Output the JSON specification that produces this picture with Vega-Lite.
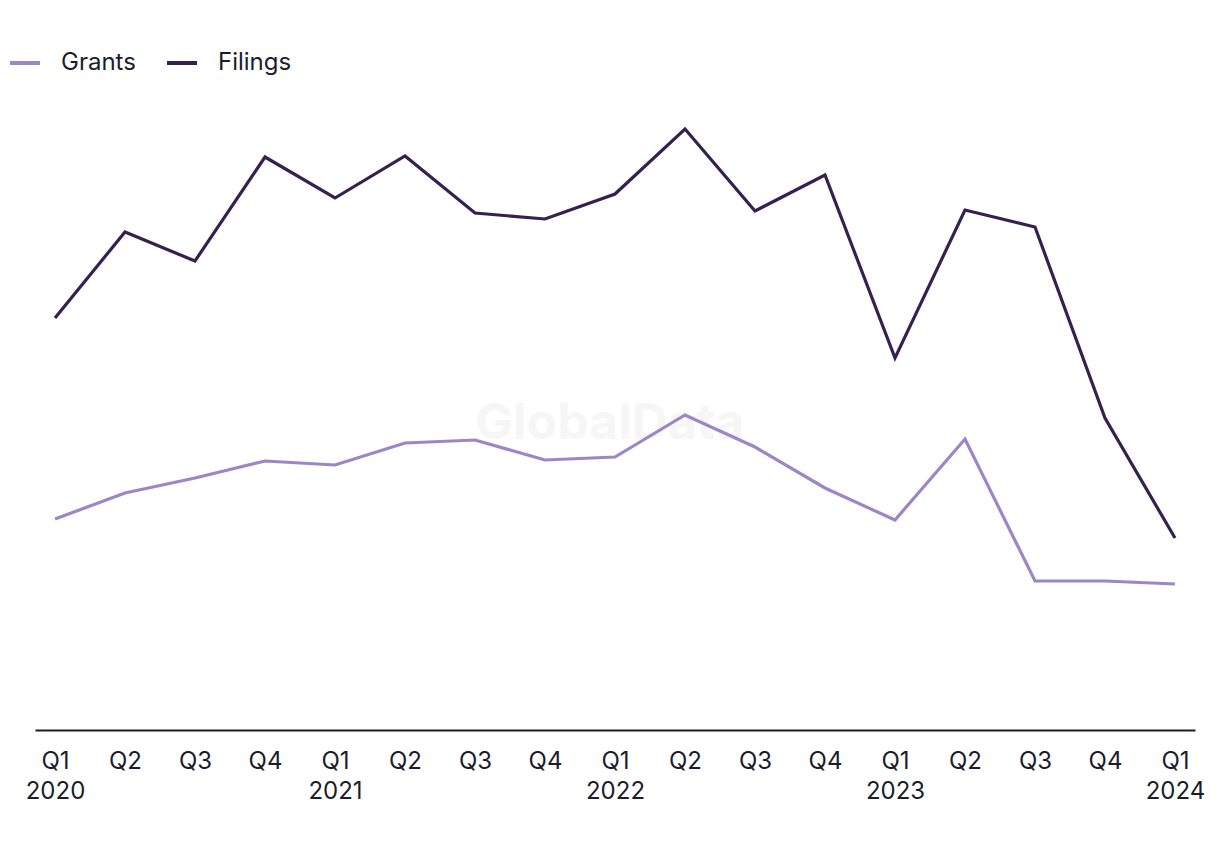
{
  "$schema": "https://vega.github.io/schema/vega-lite/v6.json",
  "width": 1160,
  "height": 700,
  "autosize": "none",
  "padding": {"left": 35, "top": 30, "right": 25, "bottom": 90},
  "background": "white",
  "config": {
    "view": {"stroke": null},
    "font": "Inter"
  },
  "data": {
    "values": [
      {"q": "Q1 2020", "series": "Grants", "v": 211},
      {"q": "Q2 2020", "series": "Grants", "v": 237},
      {"q": "Q3 2020", "series": "Grants", "v": 252},
      {"q": "Q4 2020", "series": "Grants", "v": 269},
      {"q": "Q1 2021", "series": "Grants", "v": 265},
      {"q": "Q2 2021", "series": "Grants", "v": 287},
      {"q": "Q3 2021", "series": "Grants", "v": 290},
      {"q": "Q4 2021", "series": "Grants", "v": 270},
      {"q": "Q1 2022", "series": "Grants", "v": 273},
      {"q": "Q2 2022", "series": "Grants", "v": 315},
      {"q": "Q3 2022", "series": "Grants", "v": 283},
      {"q": "Q4 2022", "series": "Grants", "v": 242},
      {"q": "Q1 2023", "series": "Grants", "v": 210},
      {"q": "Q2 2023", "series": "Grants", "v": 291},
      {"q": "Q3 2023", "series": "Grants", "v": 149},
      {"q": "Q4 2023", "series": "Grants", "v": 149},
      {"q": "Q1 2024", "series": "Grants", "v": 146},
      {"q": "Q1 2020", "series": "Filings", "v": 412},
      {"q": "Q2 2020", "series": "Filings", "v": 498},
      {"q": "Q3 2020", "series": "Filings", "v": 469},
      {"q": "Q4 2020", "series": "Filings", "v": 573},
      {"q": "Q1 2021", "series": "Filings", "v": 532},
      {"q": "Q2 2021", "series": "Filings", "v": 574},
      {"q": "Q3 2021", "series": "Filings", "v": 517},
      {"q": "Q4 2021", "series": "Filings", "v": 511},
      {"q": "Q1 2022", "series": "Filings", "v": 536},
      {"q": "Q2 2022", "series": "Filings", "v": 601},
      {"q": "Q3 2022", "series": "Filings", "v": 519},
      {"q": "Q4 2022", "series": "Filings", "v": 555},
      {"q": "Q1 2023", "series": "Filings", "v": 372},
      {"q": "Q2 2023", "series": "Filings", "v": 520},
      {"q": "Q3 2023", "series": "Filings", "v": 503},
      {"q": "Q4 2023", "series": "Filings", "v": 312},
      {"q": "Q1 2024", "series": "Filings", "v": 192}
    ]
  },
  "encoding": {
    "x": {
      "field": "q",
      "type": "ordinal",
      "sort": null,
      "scale": {
        "type": "point",
        "padding": 0.2857,
        "domain": ["Q1 2020", "Q2 2020", "Q3 2020", "Q4 2020", "Q1 2021", "Q2 2021", "Q3 2021", "Q4 2021", "Q1 2022", "Q2 2022", "Q3 2022", "Q4 2022", "Q1 2023", "Q2 2023", "Q3 2023", "Q4 2023", "Q1 2024"]
      },
      "axis": {
        "title": null,
        "labelAngle": 0,
        "labelExpr": "indexof(datum.value, 'Q1') == 0 ? split(datum.value, ' ') : substring(datum.value, 0, 2)",
        "labelFont": "Inter",
        "labelFontSize": 24,
        "labelColor": "#1c1c2b",
        "labelLineHeight": 30,
        "labelPadding": 19,
        "labelBaseline": "top",
        "ticks": false,
        "domainColor": "#1c1c2b",
        "domainWidth": 2,
        "grid": false
      }
    },
    "y": {
      "field": "v",
      "type": "quantitative",
      "scale": {"domain": [0, 700]},
      "axis": null
    }
  },
  "layer": [
    {
      "transform": [{"filter": "datum.q == 'Q1 2022' && datum.series == 'Grants'"}],
      "mark": {"type": "text", "font": "Inter", "fontWeight": "bold", "fontSize": 50, "color": "#f6f6f6", "dx": -5, "dy": -33},
      "encoding": {
        "text": {"value": "GlobalData"}
      }
    },
    {
      "mark": {"type": "line", "strokeWidth": 3.2},
      "encoding": {
        "color": {
          "field": "series",
          "type": "nominal",
          "scale": {"domain": ["Grants", "Filings"], "range": ["#9d86c5", "#36204f"]},
          "legend": {
            "title": null,
            "orient": "none",
            "legendX": -27,
            "legendY": 16,
            "direction": "horizontal",
            "symbolType": "stroke",
            "symbolSize": 900,
            "symbolStrokeWidth": 4,
            "labelFont": "Inter",
            "labelFontSize": 24,
            "labelColor": "#1c1c2b",
            "labelOffset": 19,
            "columnPadding": 23
          }
        }
      }
    }
  ]
}
